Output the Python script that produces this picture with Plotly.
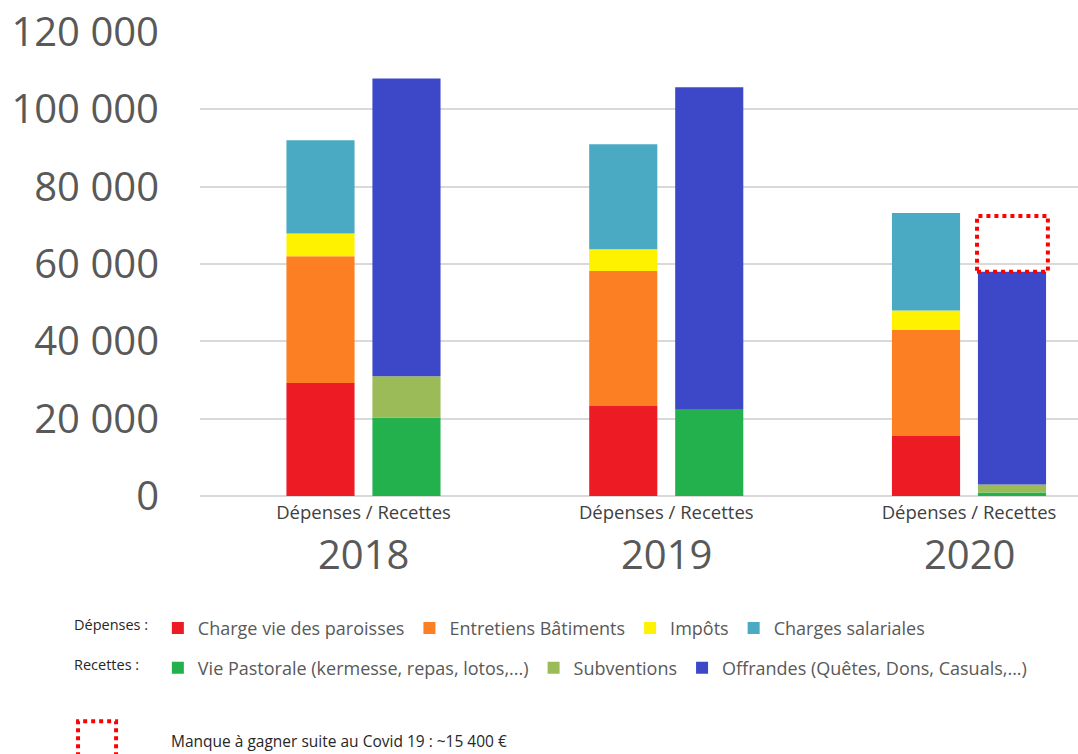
import plotly.graph_objects as go

# ---- data ----
annees = ["2018", "2019", "2020"]
label_groupe = "Dépenses / Recettes"

# Dépenses
charge_vie_paroisses = [29200, 23300, 15500]
entretiens_batiments = [32800, 34900, 27400]
impots = [5900, 5600, 5100]
charges_salariales = [24100, 27200, 25200]

# Recettes
vie_pastorale = [20300, 22300, 900]
subventions = [10700, 0, 2100]
offrandes = [77000, 83400, 55000]

manque_covid_2020 = 14400  # height of dotted box as drawn

y_ticks = [0, 20000, 40000, 60000, 80000, 100000, 120000]

# ---- styling ----
FONT = "Open Sans"
GREY = "#595959"
idx = list(range(len(annees)))
OFF = 0.142
W = 0.225
x_dep = [i - OFF for i in idx]
x_rec = [i + OFF for i in idx]

fig = go.Figure()

dep_series = [
    ("Charge vie des paroisses", charge_vie_paroisses, "#ED1C24"),
    ("Entretiens Bâtiments", entretiens_batiments, "#FD7F23"),
    ("Impôts", impots, "#FFF200"),
    ("Charges salariales", charges_salariales, "#4AAAC4"),
]
rec_series = [
    ("Vie Pastorale (kermesse, repas, lotos,...)", vie_pastorale, "#22B14C"),
    ("Subventions", subventions, "#9BBB59"),
    ("Offrandes (Quêtes, Dons, Casuals,...)", offrandes, "#3D48C9"),
]

for name, vals, col in dep_series:
    fig.add_trace(go.Bar(x=x_dep, y=vals, name=name, width=W,
                         marker=dict(color=col, line=dict(width=0)),
                         legend="legend"))
for name, vals, col in rec_series:
    fig.add_trace(go.Bar(x=x_rec, y=vals, name=name, width=W,
                         marker=dict(color=col, line=dict(width=0)),
                         legend="legend2"))

# dotted box : shortfall 2020
rec_2020 = vie_pastorale[2] + subventions[2] + offrandes[2]
fig.add_shape(type="rect", xref="x", yref="y",
              x0=x_rec[2] - W / 2 - 0.003, x1=x_rec[2] + W / 2 + 0.006,
              y0=rec_2020, y1=rec_2020 + manque_covid_2020,
              line=dict(color="#FF0000", width=4, dash="dot"))

# legend key for the dotted box (bottom left)
fig.add_shape(type="path", xref="paper", yref="paper",
              path="M -0.1389,-0.5607 L -0.1389,-0.4855 L -0.0956,-0.4855 L -0.0956,-0.5607",
              line=dict(color="#FF0000", width=4, dash="dot"))

# year labels
for i, a in zip(idx, annees):
    fig.add_annotation(x=i, y=-0.1236, xref="x", yref="paper", text=a,
                       showarrow=False, yanchor="middle",
                       font=dict(family=FONT, size=40, color=GREY))

# legend row labels & note
fig.add_annotation(x=-0.146, y=-0.278, xref="paper", yref="paper",
                   text="Dépenses :", showarrow=False, xanchor="left", yanchor="middle",
                   font=dict(family=FONT, size=14.5, color="#262626"))
fig.add_annotation(x=-0.146, y=-0.364, xref="paper", yref="paper",
                   text="Recettes :", showarrow=False, xanchor="left", yanchor="middle",
                   font=dict(family=FONT, size=14.5, color="#262626"))
fig.add_annotation(x=-0.035, y=-0.527, xref="paper", yref="paper",
                   text="Manque à gagner suite au Covid 19 : ~15 400 €", showarrow=False,
                   xanchor="left", yanchor="middle",
                   font=dict(family=FONT, size=15.5, color="#262626"))

fig.update_layout(
    width=1078, height=754,
    margin=dict(l=200, r=0, t=32, b=258, autoexpand=False),
    paper_bgcolor="white", plot_bgcolor="white",
    barmode="relative",
    separators=", ",
    showlegend=True,
    legend=dict(orientation="h", x=-0.048, y=-0.285, xanchor="left", yanchor="middle",
                font=dict(family=FONT, size=18, color=GREY),
                traceorder="normal", itemclick=False, bgcolor="rgba(0,0,0,0)"),
    legend2=dict(orientation="h", x=-0.048, y=-0.371, xanchor="left", yanchor="middle",
                 font=dict(family=FONT, size=18, color=GREY),
                 traceorder="normal", itemclick=False, bgcolor="rgba(0,0,0,0)"),
    xaxis=dict(range=[-0.54, 2.36], tickvals=idx, ticktext=[label_groupe] * len(idx),
               tickfont=dict(family=FONT, size=18.5, color="#404040"),
               ticklabelstandoff=3, automargin=False,
               showgrid=False, zeroline=False, showline=False, ticks=""),
    yaxis=dict(range=[0, 120000], tickvals=y_ticks, tickformat=",d",
               tickfont=dict(family=FONT, size=40, color=GREY),
               ticklabeloverflow="allow", automargin=False,
               showgrid=True, gridcolor="#D9D9D9", gridwidth=1.5,
               zeroline=True, zerolinecolor="#D9D9D9", zerolinewidth=1.5,
               showline=False, ticks="", ticklabelstandoff=40),
)

fig.write_html("out.html", config={"displayModeBar": False},
               post_script="document.body.style.margin='0px';document.body.style.overflow='hidden';")
